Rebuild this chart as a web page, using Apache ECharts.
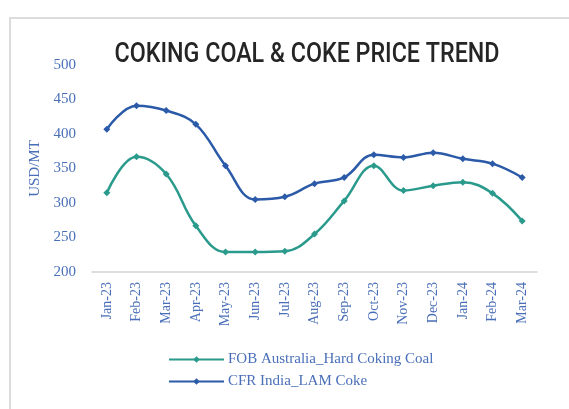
<!DOCTYPE html>
<html><head><meta charset="utf-8">
<script src="https://cdn.jsdelivr.net/npm/echarts@6/dist/echarts.min.js"></script>
<style>html,body{margin:0;padding:0;background:#fff}#c{width:569px;height:409px}</style>
</head><body><div id="c"></div>
<script>
const categories = ['Jan-23','Feb-23','Mar-23','Apr-23','May-23','Jun-23','Jul-23','Aug-23','Sep-23','Oct-23','Nov-23','Dec-23','Jan-24','Feb-24','Mar-24'];
const fobAustralia = [315,367,342,267,229,229,230,255,303,354,318,325,330,314,274];
const cfrIndia = [407,441,434,414,354,305,309,328,337,370,366,373,364,357,337];
const yTicks = {min:200, max:500, interval:50};
const titleText = 'COKING COAL & COKE PRICE TREND';
const labelColor = '#4a6fb8';
const serif = '"Liberation Serif","DejaVu Serif",serif';
const titleFont = '500 27px Roboto, "Noto Sans", sans-serif';
// condense the title horizontally to match the reference's narrow typeface
const cv = document.createElement('canvas').getContext('2d');
cv.font = titleFont;
const titleW = cv.measureText(titleText).width;
const titleScale = 385 / titleW;
const chart = echarts.init(document.getElementById('c'));
chart.setOption({
  backgroundColor:'#fff',
  animation:false,
  graphic:[
    {type:'rect',shape:{x:10,y:18,width:600,height:450},style:{fill:'none',stroke:'#dcdcdc',lineWidth:2},silent:true},
    {type:'text',x:307,y:42,scaleX:titleScale,style:{text:titleText,font:titleFont,fill:'#252525',textAlign:'center',textVerticalAlign:'alphabetic'},silent:true}
  ],
  grid:{left:92,right:32,top:65,bottom:137},
  legend:{orient:'vertical',left:163,top:347,itemWidth:55,itemHeight:8,itemGap:7,
    textStyle:{fontFamily:serif,fontSize:15,color:labelColor,padding:[0,0,0,-1]},
    data:['FOB Australia_Hard Coking Coal','CFR India_LAM Coke']},
  xAxis:{type:'category',data:categories,boundaryGap:true,
    axisLine:{lineStyle:{color:'#d4d4d4',width:1.5}},axisTick:{show:false},
    axisLabel:{rotate:90,fontFamily:serif,fontSize:14,color:labelColor,margin:10}},
  yAxis:{type:'value',min:yTicks.min,max:yTicks.max,interval:yTicks.interval,
    name:'USD/MT',nameLocation:'middle',nameGap:43,nameTextStyle:{fontFamily:serif,fontSize:15,color:labelColor},
    axisLine:{show:false},axisTick:{show:false},splitLine:{show:false},
    axisLabel:{fontFamily:serif,fontSize:15,color:labelColor,margin:16}},
  series:[
    {name:'FOB Australia_Hard Coking Coal',type:'line',data:fobAustralia,smooth:0.4,symbol:'diamond',symbolSize:7,
      lineStyle:{width:2.5,color:'#2a9a8c'},itemStyle:{color:'#2a9a8c'}},
    {name:'CFR India_LAM Coke',type:'line',data:cfrIndia,smooth:0.4,symbol:'diamond',symbolSize:7,
      lineStyle:{width:2.5,color:'#2a5aa8'},itemStyle:{color:'#2a5aa8'}}
  ]
});
</script></body></html>
